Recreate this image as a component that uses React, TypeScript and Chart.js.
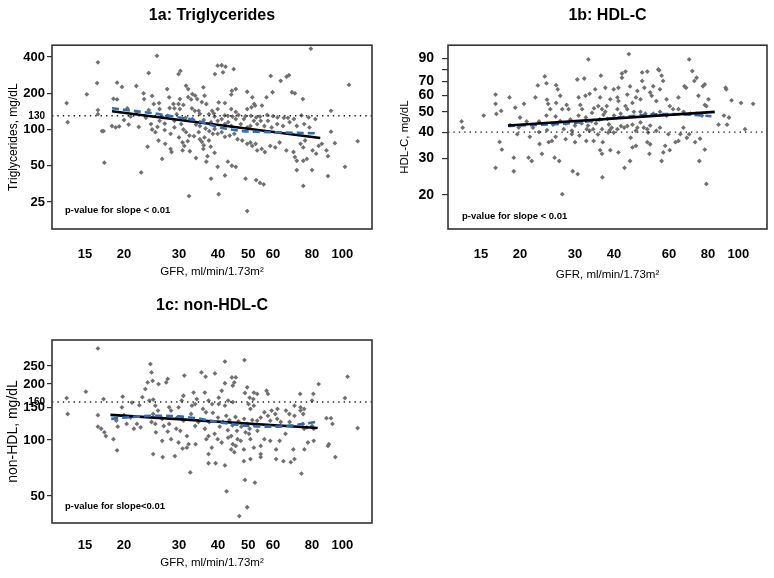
import React, { useEffect, useRef } from 'react';
import { Chart, registerables } from 'chart.js';

Chart.register(...registerables);

const FONT = "'Liberation Sans', Arial, Helvetica, sans-serif";
const X_TITLE = 'GFR, ml/min/1.73m²';

// ---------- shared ticks ----------
const xTicksAC = [15, 20, 30, 40, 50, 60, 80, 100];
const xTicksB = [15, 20, 30, 40, 60, 80, 100];
const yTicksA = [25, 50, 100, 130, 200, 400];
const yTicksB = [20, 30, 40, 50, 60, 70, 80, 90];
const yTicksC = [50, 100, 150, 160, 200, 250];

// ---------- 1a: Triglycerides ----------
const gfrA = [
  13.1, 13.2, 16.5, 16.4, 16.5, 16.5, 15.2, 17.0, 17.2, 17.3,
  18.5, 19.0, 19.0, 18.3, 18.8, 19.3, 20.0, 19.7, 20.7, 21.9,
  22.3, 23.1, 24.0, 23.2, 24.6, 24.9, 23.8, 22.7, 24.4, 24.6,
  25.5, 25.9, 26.0, 26.5, 25.6, 25.2, 25.8, 26.5, 27.5, 27.9,
  28.0, 27.5, 28.2, 27.1, 28.2, 28.4, 28.8, 29.5, 29.9, 30.3,
  30.2, 29.9, 30.2, 30.5, 30.8, 31.2, 30.8, 31.6, 32.1, 32.1,
  31.6, 32.4, 32.3, 32.5, 33.1, 33.8, 34.3, 34.7, 33.1, 33.7,
  35.5, 35.0, 34.7, 35.0, 35.5, 35.9, 36.7, 35.9, 36.2, 36.7,
  38.0, 37.4, 37.5, 36.2, 37.4, 37.9,
  32.8, 31, 29, 33, 35, 36, 38, 31.5, 29, 27,
  26, 34, 36.5, 38.5, 33.5, 30, 32, 36, 39, 27,
  29, 31, 37, 34, 22, 21, 23.5, 24, 20.5,
  39.9, 41.1, 42.3, 44.9, 39.1, 41.5, 44.3, 45.6, 44.1, 49.6,
  40.2, 42.1, 51.5, 52.2, 51.2, 52.6, 55.3, 57.2, 59.8, 59,
  63.5, 66.3, 67.5, 69, 70.5, 74.8, 79.3, 105, 92, 92,
  94.7, 112, 102, 90, 89, 90,
  39, 42, 43, 44.5, 46.5, 49, 51, 53, 54.5, 57.5,
  60, 62, 65, 67, 70, 74, 78, 82,
  39.0, 39.9, 41.1, 42.1, 43.6, 45.1, 46.2, 47.8, 49.6, 50.8,
  51.5, 52.8, 53.4, 55.2, 56.5, 58.8, 61, 63, 66.2, 69.8,
  70.5, 71.5, 73.5, 75, 76, 80.3, 82.5, 84, 86, 77,
  75, 42.1, 40.2, 49.6, 49, 53, 56, 54.5, 75, 71.5,
  80, 45.6, 43, 44.3, 39.9,
  38.3, 38.8, 39.9, 41.1, 42.1, 43.1, 44.1, 45.6, 47.3, 48.4,
  49.6, 50.8, 39.9, 44.1, 45.6, 49.6, 52.1, 53.4, 54.8, 56.3,
  57.8, 59.4, 61.9, 64.6, 67.8, 71.5, 75.5, 78.5,
];
const tgA = [
  166, 115, 362, 243, 145, 134, 196, 97, 97, 53,
  180, 178, 245, 107, 104, 106, 120, 226, 110, 230,
  105, 200, 295, 179, 190, 163, 72, 44, 111, 100,
  410, 166, 148, 127, 105, 95, 81, 57, 217, 185,
  151, 130, 92, 76, 69, 65, 163, 134, 289, 307,
  179, 163, 148, 111, 78, 73, 67, 231, 217, 186,
  95, 89, 28, 66, 197, 191, 179, 143, 122, 143,
  169, 107, 95, 83, 79, 69, 54, 224, 191, 163,
  39, 134, 97, 86, 81, 72,
  178, 160, 150, 150, 135, 120, 115, 125, 118, 112,
  118, 110, 102, 92, 88, 86, 80, 74, 64, 99,
  104, 100, 60, 58, 140, 128, 125, 145, 150,
  339, 342, 333, 318, 289, 299, 210, 217, 195, 206,
  168, 166, 185, 163, 153, 158, 158, 185, 204, 279,
  254, 275, 283, 204, 200, 179, 470, 235, 143, 96,
  77, 80, 49, 41, 67, 60,
  128, 131, 130, 128, 132, 129, 130, 126, 128, 132,
  129, 126, 125, 125, 122, 131, 126, 122,
  101, 92, 95, 87, 89, 92, 83, 81, 76, 78,
  73, 76, 67, 69, 65, 73, 71, 78, 67, 65,
  59, 55, 76, 71, 81, 67, 63, 73, 76, 57,
  55, 41.5, 29, 21, 39, 38, 35, 36, 34, 46,
  46, 49, 54, 50, 49,
  143, 136, 118, 122, 111, 115, 107, 122, 111, 122,
  104, 107, 148, 148, 140, 148, 118, 111, 118, 107,
  118, 104, 111, 107, 115, 107, 111, 104,
];
const fitXA = [18.3, 85];
const fitYA = [142, 85];
const smoothXA = [18.3, 20, 25, 30, 34, 38, 40, 48, 55, 64, 82];
const smoothYA = [150, 146, 136, 126, 119, 109, 105, 97, 95.5, 94.5, 93];

// ---------- 1b: HDL-C ----------
const gfrB = [
  13.0, 13.1, 15.3, 16.7, 16.7, 16.8, 17.4, 17.2, 17.5, 16.7,
  18.6, 18.5, 19.3, 19.1, 19.1, 19.6, 19.8, 20, 20.6, 21.3,
  21.8, 22.4, 22.8, 23.1, 23.5, 24, 24.3, 24.4, 24.6, 24.3,
  25, 24.4, 25.3, 24.7, 25.8, 26.7, 27.3, 26.1, 26.4, 26.1,
  26.9, 27.3, 26.9, 27.6, 28.2, 28.6, 29.3, 29.3, 29.5, 30,
  30.6, 30.8, 31.2, 30.8, 30.5, 31.6, 32.1, 32.7, 33.4, 32.6,
  33.1, 32.4, 33.4, 33.9, 34.3, 34.4, 34.8, 35.6, 36.3, 36.1,
  36.6, 36.6, 36.8, 36.1, 36.6, 36.7, 37.5, 37.9, 38.1,
  31.5, 32.5, 34, 35, 36, 37, 38.5, 33, 29, 28,
  30, 26, 23, 22, 25.5, 21, 34.5, 37.5, 38.8, 35.5,
  31, 28, 26, 23, 21.5,
  44.6, 42.4, 43.5, 42.4, 41.3, 39.9, 38.9, 41, 41.3, 44.1,
  45, 43.5, 45.8, 47, 47.5, 49.2, 51.1, 49.2, 50, 48.6,
  52.2, 52.8, 53.4, 55.4, 55.8, 56.1, 56.8, 57.4, 54.6, 58.9,
  60.3, 64.3, 67.2, 69.6, 71.2, 72.3, 73.5, 68, 74.5, 77,
  78.1, 80.2, 78.1, 79, 91, 91.5, 95.1, 102, 111.5, 89.9,
  93.3, 86.4, 92, 105, 79, 75, 78.1, 75.4, 72.7, 68.4,
  69.6, 66.7, 64.3, 65.2, 62.9, 60.3, 58.3, 57.5, 56.8, 59.7,
  56.1, 54.6, 52.2, 51.4, 51.1, 52.2, 51.1, 51.9, 49.8, 48.6,
  47.5, 47, 45.8, 44.1, 43.1, 42.1, 41, 39.3, 39.9, 38.3,
  47, 45.8, 45, 43.2, 41.3, 38.9, 45.2,
  48.6, 50.4, 53.4, 56.1, 58.9, 61.8, 64.3, 66.8, 70.3, 73.5,
  76.5, 44.1, 46.3, 42, 40, 41,
];
const hdlB = [
  45, 42, 48, 60.5, 54.6, 48.9, 50.5, 35.9, 33, 27,
  43.2, 58.6, 52.4, 30.2, 26, 39.1, 42.1, 47, 54.6, 30.2,
  29.1, 58.6, 66.9, 35.1, 31.5, 73.9, 68.5, 57.2, 54.6, 48,
  51.5, 40.9, 36.3, 35.8, 30.2, 29.1, 20.2, 67.1, 64.1, 55.2,
  59.7, 51.5, 45.2, 41.3, 54, 51.5, 40.6, 39.1, 26, 35.8,
  25.2, 58.6, 54, 48, 71.4, 51.5, 72.2, 41.3, 40.6, 36.3,
  89.1, 59.7, 61, 45.2, 41.3, 36.3, 64.1, 53.3, 74.5, 58.6,
  51.5, 41.3, 35.8, 32.8, 31.5, 24.3, 65.2, 53.3, 46.3,
  44, 47, 49.5, 44, 46, 48.5, 43.5, 43, 46, 44,
  43, 47.5, 45, 42, 43.5, 45, 52, 50, 41, 39,
  38.5, 37, 38, 40, 38,
  94.5, 76.3, 77.9, 72.8, 65.2, 64.1, 57.4, 58.6, 56.3, 60.5,
  66.2, 53.3, 55.2, 58.6, 63, 77.2, 77.9, 70.3, 65.2, 57.4,
  61.9, 59.7, 66.3, 79.8, 79, 64.1, 74.5, 70.3, 56.3, 57.4,
  53.3, 58.6, 66.3, 89.1, 78.4, 70.3, 72.8, 65.2, 59.7, 66.3,
  67.7, 57.4, 54, 53.3, 65.2, 64.1, 56.8, 55.2, 54.6, 48,
  47, 43.4, 43.4, 41.3, 22.6, 29.1, 33, 37.2, 35.8, 37.6,
  39.1, 42, 36.3, 39.1, 35.8, 32.8, 34.4, 32, 29.1, 39.1,
  42, 40.6, 43, 39.8, 41.3, 35, 35.8, 31.5, 42, 44.5,
  42, 40.6, 43.4, 42.8, 42, 42.8, 41.3, 42, 39.8, 39.8,
  34.4, 33.8, 29.1, 27, 32, 32.8, 37.6,
  50, 49, 49, 50, 48, 51.5, 51.5, 50, 49, 49,
  48, 51.5, 50, 49, 48, 51.5,
];
const fitXB = [18.3, 84];
const fitYB = [43, 50];
const smoothXB = [18.3, 25, 30, 35, 40, 50, 60, 70, 82];
const smoothYB = [42.8, 43.6, 44.3, 45.5, 46.8, 48.3, 48.8, 48.5, 47.6];

// ---------- 1c: non-HDL-C ----------
const gfrC = [
  16.5, 13.1, 13.2, 15.1, 17.2, 16.5, 16.5, 16.9, 17.3, 17.5,
  18.5, 19, 19.8, 19.7, 20, 18.9, 19.1, 20.4, 21, 21.2,
  22, 22.6, 21.5, 22.4, 22.9, 23.4, 23.8, 24.3, 24.5, 24.7,
  24.1, 24.8, 25.2, 24.8, 24.5, 25.2, 25.3, 24.8, 25.8, 26.6,
  25.7, 26.5, 26.8, 27.6, 27.3, 27.9, 28.3, 27.9, 27.6, 28.3,
  26.5, 29.1, 29.4, 29.6, 29.9, 30.3, 29.9, 30.8, 31.2, 31,
  30.6, 31, 31.8, 32.2, 31.8, 32.6, 32.8, 33, 33.4, 33.8,
  34.2, 33.8, 34.6, 33.9, 35.4, 36.5, 36.3, 37.3, 35.8, 36.6,
  37.5, 36.3, 37.3, 36.7, 38.2, 37.3, 37.3,
  42.1, 48.6, 39.1, 44.3, 45.6, 42.1, 45.1, 41.1, 44.6, 49.6,
  52.1, 53.4, 57.2, 57.8, 48.8, 50.5, 51.9, 40.2, 38.3, 40.2,
  42.1, 43.1, 44.6, 50.1, 50.8, 52.1, 73.3, 80.8, 80, 84,
  104, 102, 70.3, 73.5, 75.5, 75, 70.3, 73.5, 62, 66,
  67.7, 59.4, 61, 56.3, 57.8, 54.8, 53.4, 58.8, 61.9, 63.5,
  67.8, 74.7, 77, 80, 81, 75.5, 89, 92, 93, 112,
  90.6, 90, 95, 74, 48.8, 52.5, 42.6, 49.6, 46.8,
  39, 39.9, 41.1, 43.1, 44.1, 44.6, 46.2, 45.6, 44.1, 45.1,
  47.3, 48.4, 50.3, 50.8, 52.1, 54.8, 54.8, 56.3, 58.8, 61.4,
  63, 65.8, 69.7, 70.3, 75.6, 77.6, 81, 61.4, 50.8, 48.4,
  54.8, 64.8, 68.4, 42.1, 39.3,
  38.5, 40, 41.5, 42.5, 43.5, 44.5, 45.5, 46.5, 47.5, 48.5,
  49.5, 50.5, 51.5, 52.5, 40.5, 43, 46, 49, 53.5,
];
const nonHdlC = [
  311, 168, 138, 182, 166, 136, 118, 115, 110, 105,
  101, 88, 171, 150, 136, 127, 118, 122, 132, 159,
  122, 117, 115, 154, 170, 188, 204, 256, 231, 208,
  163, 165, 153, 138, 125, 122, 110, 84, 200, 81,
  144, 130, 119, 213, 204, 150, 144, 122, 111, 101,
  99, 82, 115, 132, 150, 112, 97, 90, 222, 173,
  163, 127, 105, 95, 91, 67, 138, 153, 180, 156,
  166, 119, 125, 95, 231, 219, 180, 163, 147, 141,
  125, 115, 105, 101, 91, 84, 75,
  264, 269, 228, 217, 217, 202, 204, 184, 196, 192,
  180, 177, 184, 177, 179, 169, 166, 169, 156, 156,
  153, 163, 160, 156, 147, 153, 177, 177, 163, 200,
  219, 168, 153, 150, 147, 138, 135, 144, 147, 144,
  138, 144, 138, 141, 135, 132, 127, 127, 130, 125,
  125, 122, 117, 119, 115, 115, 131, 131, 122, 116,
  95, 93, 81, 66, 61, 59, 53, 43.5, 39,
  108, 101, 97, 103, 105, 95, 101, 93, 89, 86,
  99, 89, 108, 101, 91, 93, 84, 101, 99, 89,
  99, 108, 89, 79, 89, 97, 99, 79, 79, 77,
  81, 77, 76, 73, 75,
  140, 132, 125, 135, 128, 120, 133, 126, 118, 130,
  122, 115, 128, 120, 118, 113, 112, 110, 112,
];
const fitXC = [18.1, 83.4];
const fitYC = [136.6, 116];
const smoothXC = [18.2, 20, 25, 30, 35, 40, 50, 60, 70, 82];
const smoothYC = [130, 132, 135, 134, 130, 125, 119, 118, 120, 125];

type Panel = {
  left: number; top: number; width: number; height: number;
  title: string; titlePadTop: number; titlePadBottom: number;
  yTitle: string; yTitleSize: number; yTitlePad: number;
  yAxisWidth: number; xAxisHeight: number; padRight: number;
  xTickPad: number; xTitlePad: number;
  yTickLen: number; yTickPad: number; yTickSize: number;
  xMin: number; xMax: number; yMin: number; yMax: number;
  xTicks: number[]; yTicks: number[]; hiddenY: number[]; smallY: number[];
  gfr: number[]; val: number[];
  fitX: number[]; fitY: number[]; smoothX: number[]; smoothY: number[];
  ref: number; note: string; noteDx: number; noteDy: number; blueOnTop: boolean;
};

const panels: Panel[] = [
  {
    left: 0, top: 0, width: 387, height: 289,
    title: '1a: Triglycerides', titlePadTop: 6, titlePadBottom: 20,
    yTitle: 'Triglycerides, mg/dL', yTitleSize: 12, yTitlePad: 6,
    yAxisWidth: 52, xAxisHeight: 60, padRight: 15,
    xTickPad: 18, xTitlePad: 10,
    yTickLen: 5, yTickPad: 2, yTickSize: 13,
    xMin: 11.76, xMax: 124.5, yMin: 14.9, yMax: 502,
    xTicks: xTicksAC, yTicks: yTicksA, hiddenY: [], smallY: [130],
    gfr: gfrA, val: tgA, fitX: fitXA, fitY: fitYA, smoothX: smoothXA, smoothY: smoothYA,
    ref: 130, note: 'p-value for slope < 0.01', noteDx: 13, noteDy: 19, blueOnTop: true,
  },
  {
    left: 387, top: 0, width: 387, height: 289,
    title: '1b: HDL-C', titlePadTop: 6, titlePadBottom: 20,
    yTitle: 'HDL-C, mg/dL', yTitleSize: 11.5, yTitlePad: 11,
    yAxisWidth: 61, xAxisHeight: 60, padRight: 7,
    xTickPad: 18, xTitlePad: 7,
    yTickLen: 6, yTickPad: 8, yTickSize: 14,
    xMin: 11.76, xMax: 123.5, yMin: 13.76, yMax: 104.2,
    xTicks: xTicksB, yTicks: yTicksB, hiddenY: [80], smallY: [],
    gfr: gfrB, val: hdlB, fitX: fitXB, fitY: fitYB, smoothX: smoothXB, smoothY: smoothYB,
    ref: 40, note: 'p-value for slope < 0.01', noteDx: 14, noteDy: 13, blueOnTop: false,
  },
  {
    left: 0, top: 289, width: 387, height: 289,
    title: '1c: non-HDL-C', titlePadTop: 7, titlePadBottom: 24.8,
    yTitle: 'non-HDL, mg/dL', yTitleSize: 14, yTitlePad: 5,
    yAxisWidth: 52, xAxisHeight: 55, padRight: 15,
    xTickPad: 15, xTitlePad: 8,
    yTickLen: 5, yTickPad: 2, yTickSize: 13,
    xMin: 11.76, xMax: 124.5, yMin: 35.8, yMax: 345,
    xTicks: xTicksAC, yTicks: yTicksC, hiddenY: [], smallY: [160],
    gfr: gfrC, val: nonHdlC, fitX: fitXC, fitY: fitYC, smoothX: smoothXC, smoothY: smoothYC,
    ref: 160, note: 'p-value for slope<0.01', noteDx: 13, noteDy: 17, blueOnTop: true,
  },
];

const pts = (xs: number[], ys: number[]) => xs.map((x, i) => ({ x, y: ys[i] }));

function PanelChart({ p }: { p: Panel }) {
  const ref = useRef<HTMLCanvasElement | null>(null);
  useEffect(() => {
    if (!ref.current) return;
    const framePlugin = {
      id: 'frame',
      afterDatasetsDraw(chart: any) {
        const { ctx, chartArea } = chart;
        const { left, top, right, bottom } = chartArea;
        ctx.save();
        ctx.strokeStyle = '#333333';
        ctx.lineWidth = 1.6;
        ctx.strokeRect(left, top, right - left, bottom - top);
        ctx.restore();
      },
    };
    const notePlugin = {
      id: 'note',
      afterDraw(chart: any) {
        const { ctx, chartArea } = chart;
        ctx.save();
        ctx.font = `bold 9.5px ${FONT}`;
        ctx.fillStyle = '#000';
        ctx.textBaseline = 'middle';
        ctx.textAlign = 'left';
        ctx.fillText(p.note, chartArea.left + p.noteDx, chartArea.bottom - p.noteDy);
        ctx.restore();
      },
    };
    const BLUE = '#2a6fbf';
    const chart = new Chart(ref.current, {
      type: 'scatter',
      data: {
        datasets: [
          {
            label: 'smooth', data: pts(p.smoothX, p.smoothY), showLine: true,
            borderColor: BLUE, borderWidth: 2.6, borderDash: [7, 4], pointRadius: 0,
            cubicInterpolationMode: 'monotone', order: p.blueOnTop ? 0 : 1,
          } as any,
          {
            label: 'fit', data: pts(p.fitX, p.fitY), showLine: true,
            borderColor: '#000', borderWidth: 2.6, pointRadius: 0, order: p.blueOnTop ? 1 : 0,
          },
          {
            label: 'ref', data: [{ x: p.xMin, y: p.ref }, { x: p.xMax, y: p.ref }], showLine: true,
            borderColor: '#222', borderWidth: 1.4, borderDash: [1.4, 4], pointRadius: 0, order: 2,
          },
          {
            label: 'obs', data: pts(p.gfr, p.val), pointStyle: 'rectRot', pointRadius: 2.4,
            backgroundColor: '#707070', borderWidth: 0, order: 3,
          },
        ],
      },
      options: {
        responsive: false,
        animation: false,
        events: [],
        layout: { padding: { left: 0, right: p.padRight, top: 0, bottom: 0 } },
        plugins: {
          legend: { display: false },
          tooltip: { enabled: false },
          title: {
            display: true, text: p.title, fullSize: false, color: '#000',
            font: { family: FONT, size: 16, weight: 'bold' },
            padding: { top: p.titlePadTop, bottom: p.titlePadBottom },
          },
        },
        scales: {
          x: {
            type: 'logarithmic', min: p.xMin, max: p.xMax, bounds: 'data',
            afterBuildTicks: (s: any) => { s.ticks = p.xTicks.map((v) => ({ value: v })); },
            afterFit: (s: any) => { s.height = p.xAxisHeight; },
            grid: { display: false, drawTicks: false },
            border: { display: false },
            ticks: {
              autoSkip: false, maxRotation: 0, padding: p.xTickPad, color: '#000',
              font: { family: FONT, size: 13, weight: 'bold' },
              callback: (v: any) => String(v),
            },
            title: {
              display: true, text: X_TITLE, color: '#000',
              font: { family: FONT, size: 11.5 },
              padding: { top: 0, bottom: p.xTitlePad },
            },
          },
          y: {
            type: 'logarithmic', min: p.yMin, max: p.yMax, bounds: 'data',
            afterBuildTicks: (s: any) => { s.ticks = p.yTicks.map((v) => ({ value: v })); },
            afterFit: (s: any) => { s.width = p.yAxisWidth; },
            grid: {
              display: true, drawOnChartArea: false, drawTicks: true, tickLength: p.yTickLen,
              color: '#333', lineWidth: 1.2,
              tickColor: (ctx: any) => (ctx.tick && p.smallY.includes(ctx.tick.value) ? 'rgba(0,0,0,0)' : '#333'),
            },
            border: { display: false },
            ticks: {
              autoSkip: false, padding: p.yTickPad, color: '#000',
              font: (ctx: any) => (ctx.tick && p.smallY.includes(ctx.tick.value)
                ? { family: FONT, size: 10, weight: 'bold' }
                : { family: FONT, size: p.yTickSize, weight: 'bold' }),
              callback: (v: any) => (p.hiddenY.includes(Number(v)) ? '' : String(v)),
            },
            title: {
              display: true, text: p.yTitle, color: '#000',
              font: { family: FONT, size: p.yTitleSize },
              padding: { top: p.yTitlePad, bottom: 0 },
            },
          },
        },
      } as any,
      plugins: [framePlugin, notePlugin],
    });
    return () => chart.destroy();
  }, [p]);
  return (
    <canvas
      ref={ref}
      width={p.width}
      height={p.height}
      style={{ position: 'absolute', left: p.left, top: p.top, width: p.width, height: p.height }}
    />
  );
}

export default function App() {
  return (
    <div style={{ position: 'absolute', left: 0, top: 0, width: 774, height: 578, background: '#fff' }}>
      {panels.map((p) => (
        <PanelChart key={p.title} p={p} />
      ))}
    </div>
  );
}
